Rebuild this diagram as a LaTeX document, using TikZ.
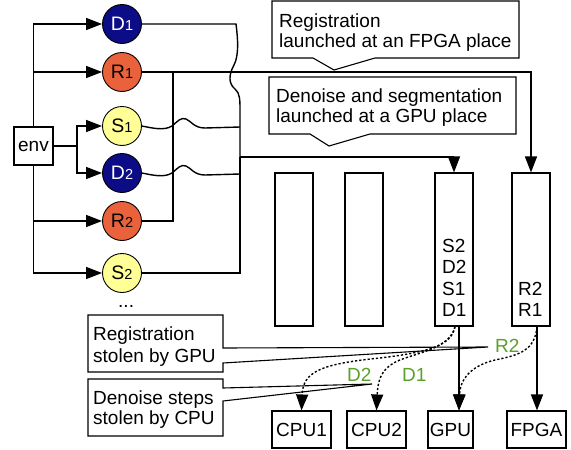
\documentclass[tikz,border=0pt]{standalone}
\usepackage{fontspec}
\setmainfont{Liberation Sans}
\usetikzlibrary{arrows.meta}
\definecolor{navyc}{RGB}{12,12,135}
\definecolor{orangec}{RGB}{234,98,60}
\definecolor{yellowc}{RGB}{255,255,150}
\definecolor{greenc}{RGB}{92,160,44}
\newcommand\smallnum[1]{{\fontsize{14.5}{14.5}\selectfont #1}}
\begin{document}
\begin{tikzpicture}[x=1pt,y=-1pt, font=\fontsize{19}{21}\selectfont,
 ln/.style={line width=1.4pt},
 arr/.style={ln,-{Triangle[length=16pt,width=12pt]}},
 dotl/.style={arr, dash pattern=on 2.2pt off 2pt},
 circ/.style={circle,draw,line width=0.9pt,minimum size=39pt,inner sep=0pt},
 box/.style={draw,line width=1.1pt,inner sep=0pt},
 co/.style={draw,line width=1.1pt},
 txt/.style={inner sep=0pt,anchor=base west},
 grn/.style={txt,text=greenc}]
\fill[white] (0,0) rectangle (571,450);
\useasboundingbox (0,0) rectangle (571,450);

% task circles
\node[circ,fill=navyc,text=white,font=\fontsize{19.5}{21}\selectfont] (D1) at (122,24) {D\smallnum{1}};
\node[circ,fill=orangec,font=\fontsize{19.5}{21}\selectfont] (R1) at (122,72) {R\smallnum{1}};
\node[circ,fill=yellowc,font=\fontsize{19.5}{21}\selectfont] (S1) at (122,126) {S\smallnum{1}};
\node[circ,fill=navyc,text=white,font=\fontsize{19.5}{21}\selectfont] (D2) at (122,173) {D\smallnum{2}};
\node[circ,fill=orangec,font=\fontsize{19.5}{21}\selectfont] (R2) at (122,221) {R\smallnum{2}};
\node[circ,fill=yellowc,font=\fontsize{19.5}{21}\selectfont] (S2) at (122,273) {S\smallnum{2}};
\node[txt] (more) at (118,307) {...};

% env
\node[box,minimum width=39pt,minimum height=38pt] (env) at (33.5,146) {env};
\draw[arr] (env.north) |- (D1.west);
\draw[arr] (env.north) |- (R1.west);
\draw[arr] (env.south) |- (R2.west);
\draw[arr] (env.south) |- (S2.west);
\coordinate (br) at (77,146);
\draw[ln] (env.east) -- (br);
\draw[arr] (br) |- (S1.west);
\draw[arr] (br) |- (D2.west);

% columns
\node[box,minimum width=38pt,minimum height=153pt] (c1) at (294,249.5) {};
\node[box,minimum width=38pt,minimum height=153pt] (c2) at (364,249.5) {};
\node[box,minimum width=38pt,minimum height=153pt] (c3) at (454,249.5) {};
\node[box,minimum width=38pt,minimum height=153pt] (c4) at (531,249.5) {};
\node[txt] (q1) at (442,252) {S2};
\node[txt] (q2) at (442,273) {D2};
\node[txt] (q3) at (442,295) {S1};
\node[txt] (q4) at (442,316) {D1};
\node[txt] (f1) at (518,295) {R2};
\node[txt] (f2) at (518,316) {R1};

% devices
\node[box,minimum width=59pt,minimum height=37pt] (CPU1) at (301.5,429.5) {CPU1};
\node[box,minimum width=59pt,minimum height=37pt] (CPU2) at (376.5,429.5) {CPU2};
\node[box,minimum width=45pt,minimum height=37pt] (GPU) at (450.5,429.5) {GPU};
\node[box,minimum width=59pt,minimum height=37pt] (FPGA) at (536.5,429.5) {FPGA};

% launching connectors
\coordinate (rj) at (173,72);
\coordinate (gj) at (240,157);
\draw[arr] (R1.east) -| (c4.north);
\draw[ln] (R2.east) -| (rj);
\draw[ln] (S2.east) -| (gj);
\draw[arr] (gj) -| (c3.north);
\draw[ln] (S1.east) .. controls (152,128) and (164,131) .. (172,126) .. controls (178,121) and (181,117) .. (186,119) .. controls (191,121) and (194,128) .. (205,128) -- (240,127);
\draw[ln] (D2.east) .. controls (152,175) and (164,178) .. (172,173) .. controls (178,168) and (181,164) .. (186,166) .. controls (191,168) and (194,175) .. (205,175) -- (240,174);
\draw[ln] (D1.east) -- (236,24) .. controls (238,40) and (239,55) .. (234,65) .. controls (228,76) and (229,84) .. (235,89) .. controls (240,93) and (240,100) .. (240,110) -- (gj);

% execution connectors
\draw[arr] ([xshift=5pt]c3.south) -- ([xshift=8.5pt]GPU.north);
\draw[arr] ([xshift=6pt]c4.south) -- ([xshift=0.5pt]FPGA.north);
\draw[dotl] ([xshift=1pt]c3.south) .. controls (452,345) and (430,352) .. (380,358) .. controls (320,364) and (303,372) .. (CPU1.north);
\draw[dotl] ([xshift=1pt]c3.south) .. controls (450,348) and (420,352) .. (400,360) .. controls (385,366) and (378,375) .. (CPU2.north);
\draw[dotl] ([xshift=6pt]c4.south) .. controls (535,350) and (520,355) .. (495,360) .. controls (470,366) and (460,380) .. ([xshift=8.5pt]GPU.north);
\node[grn] (g1) at (495,352) {R2};
\node[grn] (g2) at (347,381) {D2};
\node[grn] (g3) at (402,381) {D1};

% callouts
\draw[co] (272,1) -- (519,1) -- (519,58) -- (375,58) -- (334,70) -- (313,58) -- (272,58) -- cycle;
\node[txt] (t1a) at (279,27) {Registration};
\node[txt] (t1b) at (279,47) {launched at an FPGA place};
\draw[co] (269,77) -- (516,77) -- (516,134) -- (370,134) -- (329,146) -- (310,134) -- (269,134) -- cycle;
\node[txt] (t2a) at (276,102) {Denoise and segmentation};
\node[txt] (t2b) at (276,122) {launched at a GPU place};
\draw[co] (88,315) -- (223,315) -- (223,348) -- (488,347) -- (223,363) -- (223,372) -- (88,372) -- cycle;
\node[txt] (t3a) at (93,340) {Registration};
\node[txt] (t3b) at (93,362) {stolen by GPU};
\draw[co] (88,379) -- (223,379) -- (223,388) -- (372,384) -- (223,401) -- (223,436) -- (88,436) -- cycle;
\node[txt] (t4a) at (93,404) {Denoise steps};
\node[txt] (t4b) at (93,424) {stolen by CPU};
\end{tikzpicture}
\end{document}
